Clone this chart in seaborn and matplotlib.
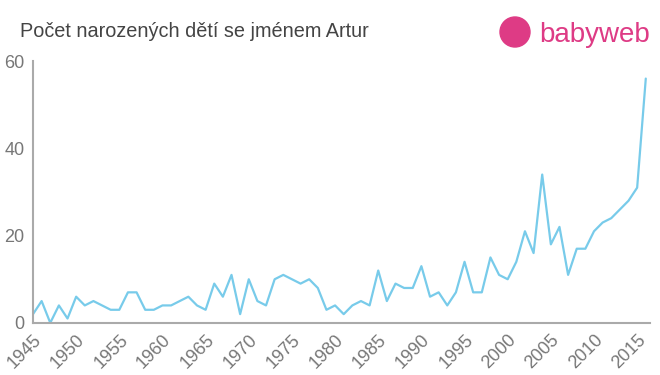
import pandas as pd
import seaborn as sns
import matplotlib.pyplot as plt
from matplotlib.patches import Ellipse

years = list(range(1945, 2017))
counts = [2, 5, 0, 4, 1, 6, 4, 5, 4, 3,
          3, 7, 7, 3, 3, 4, 4, 5, 6, 4,
          3, 9, 6, 11, 2, 10, 5, 4, 10, 11,
          10, 9, 10, 8, 3, 4, 2, 4, 5, 4,
          12, 5, 9, 8, 8, 13, 6, 7, 4, 7,
          14, 7, 7, 15, 11, 10, 14, 21, 16, 34,
          18, 22, 11, 17, 17, 21, 23, 24, 26, 28,
          31, 56]
x_ticks = list(range(1945, 2020, 5))
y_ticks = [0, 20, 40, 60]

df = pd.DataFrame({'year': years, 'count': counts})

sns.set_style('white')
plt.rcParams['font.family'] = ['Liberation Sans', 'DejaVu Sans']

fig = plt.figure(figsize=(6.6, 3.75), dpi=100)
ax = fig.add_axes([0.05, 0.139, 0.935, 0.698])

sns.lineplot(x='year', y='count', data=df, ax=ax, color='#78cbea', linewidth=1.6)

ax.set_xlim(1945, 2016.5)
ax.set_ylim(0, 60)
ax.set_xticks(x_ticks)
ax.set_xticklabels([str(t) for t in x_ticks], rotation=45, ha='right',
                   rotation_mode='anchor', fontsize=13, color='#777777')
ax.set_yticks(y_ticks)
ax.set_yticklabels([str(t) for t in y_ticks], fontsize=13, color='#777777')
ax.tick_params(axis='x', length=4, color='#aaaaaa', width=1.5, pad=2)
ax.tick_params(axis='y', length=0, pad=6)
ax.set_xlabel('')
ax.set_ylabel('')

for s in ['top', 'right']:
    ax.spines[s].set_visible(False)
for s in ['left', 'bottom']:
    ax.spines[s].set_color('#aaaaaa')
    ax.spines[s].set_linewidth(1.5)

fig.text(0.03, 0.915, 'Počet narozených dětí se jménem Artur', fontsize=14.3,
         color='#444444', va='center')

# logo
fig.patches.append(Ellipse((515 / 660, 1 - 32 / 375), 30 / 660, 30 / 375,
                           transform=fig.transFigure, color='#de3b85', figure=fig))
fig.text(539 / 660, 1 - 35 / 375, 'babyweb', fontsize=20, color='#de3b85', va='center')

plt.savefig('out.png')
